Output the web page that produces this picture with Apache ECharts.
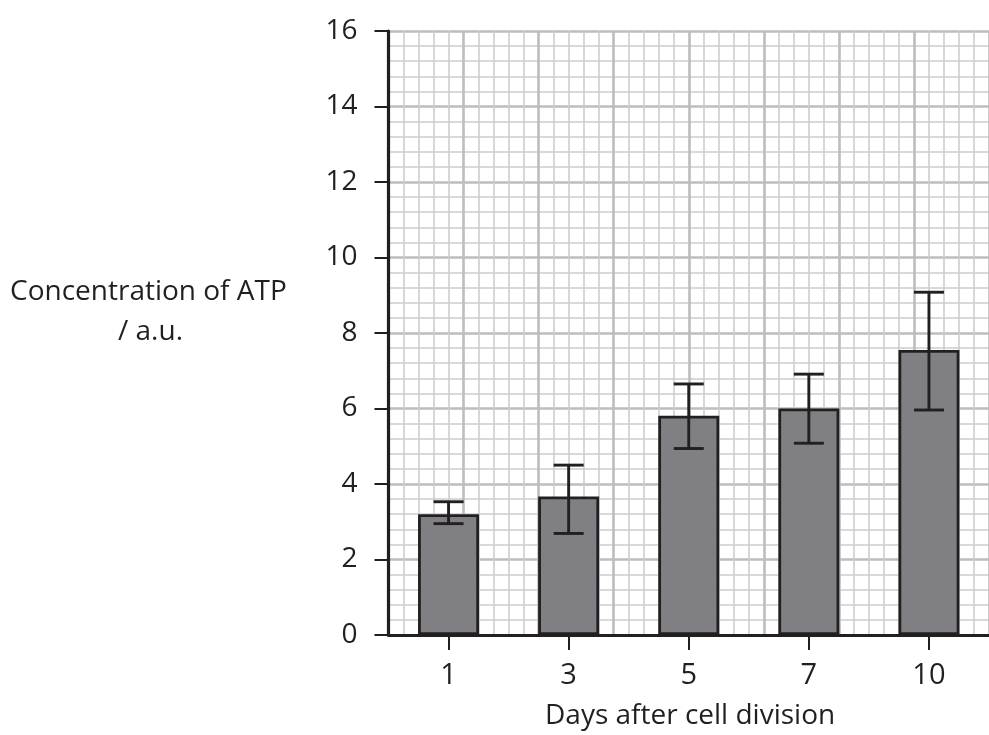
<!DOCTYPE html>
<html>
<head>
<meta charset="utf-8">
<script src="https://cdn.jsdelivr.net/npm/echarts@6/dist/echarts.min.js"></script>
<style>html,body{margin:0;padding:0;background:#fff;}#c{width:989px;height:735px;}</style>
</head>
<body>
<div id="c"></div>
<script>
const categories = ['1', '3', '5', '7', '10'];
const atpMean = [3.2, 3.67, 5.81, 6.0, 7.55];
const errLow = [2.95, 2.69, 4.94, 5.08, 5.96];
const errHigh = [3.53, 4.5, 6.65, 6.91, 9.08];
const yTicks = [0, 2, 4, 6, 8, 10, 12, 14, 16];

const ink = '#231f20';
const font = 'Open Sans';
const chart = echarts.init(document.getElementById('c'), null, {renderer: 'canvas'});

const errData = categories.map((c, i) => [i, errLow[i], errHigh[i]]);

chart.setOption({
  animation: false,
  backgroundColor: '#fff',
  grid: {left: 388.5, top: 31, width: 605, height: 604, containLabel: false},
  graphic: [
    {type: 'text', left: 10, top: 278, style: {text: 'Concentration of ATP', font: '28px "Open Sans"', fill: ink}},
    {type: 'text', left: 118, top: 318, style: {text: '/ a.u.', font: '28px "Open Sans"', fill: ink}},
    {type: 'text', left: 545, top: 702, style: {text: 'Days after cell division', font: '28px "Open Sans"', fill: ink}}
  ],
  xAxis: [
    {
      type: 'category', data: categories, gridIndex: 0,
      axisLine: {show: true, lineStyle: {color: ink, width: 3.2}},
      axisTick: {show: true, alignWithLabel: true, length: 15, lineStyle: {color: ink, width: 2}},
      axisLabel: {fontFamily: font, fontSize: 29, color: ink, margin: 26},
      splitLine: {show: false}
    },
    {
      type: 'value', min: 0, max: 8, interval: 1, gridIndex: 0, position: 'top',
      axisLine: {show: false}, axisTick: {show: false}, axisLabel: {show: false},
      minorTick: {show: false, splitNumber: 5},
      splitLine: {show: true, lineStyle: {color: '#bdbdc0', width: 2.6}},
      minorSplitLine: {show: true, lineStyle: {color: '#cdcdcf', width: 1.6}}
    }
  ],
  yAxis: {
    type: 'value', min: 0, max: 16, interval: 2,
    axisLine: {show: true, lineStyle: {color: ink, width: 3.2}},
    axisTick: {show: true, length: 14, lineStyle: {color: ink, width: 2}},
    axisLabel: {fontFamily: font, fontSize: 28, color: ink, margin: 31,
      formatter: v => yTicks.includes(v) ? String(v) : ''},
    minorTick: {show: false, splitNumber: 5},
    splitLine: {show: true, lineStyle: {color: '#bdbdc0', width: 2.6}},
    minorSplitLine: {show: true, lineStyle: {color: '#cdcdcf', width: 1.6}}
  },
  series: [
    {
      type: 'bar', data: atpMean, xAxisIndex: 0, barWidth: 61,
      itemStyle: {color: '#808084', borderColor: ink, borderWidth: 2.8},
      z: 3
    },
    {
      type: 'custom', xAxisIndex: 0, data: errData, z: 4,
      encode: {x: 0, y: [1, 2]},
      renderItem: function (params, api) {
        const x = api.value(0);
        const lo = api.coord([x, api.value(1)]);
        const hi = api.coord([x, api.value(2)]);
        const hw = 15;
        const st = {stroke: ink, lineWidth: 2.9};
        return {type: 'group', children: [
          {type: 'line', shape: {x1: lo[0], y1: lo[1], x2: hi[0], y2: hi[1]}, style: st},
          {type: 'line', shape: {x1: lo[0] - hw, y1: lo[1], x2: lo[0] + hw, y2: lo[1]}, style: st},
          {type: 'line', shape: {x1: hi[0] - hw, y1: hi[1], x2: hi[0] + hw, y2: hi[1]}, style: st}
        ]};
      }
    }
  ]
});
</script>
</body>
</html>
